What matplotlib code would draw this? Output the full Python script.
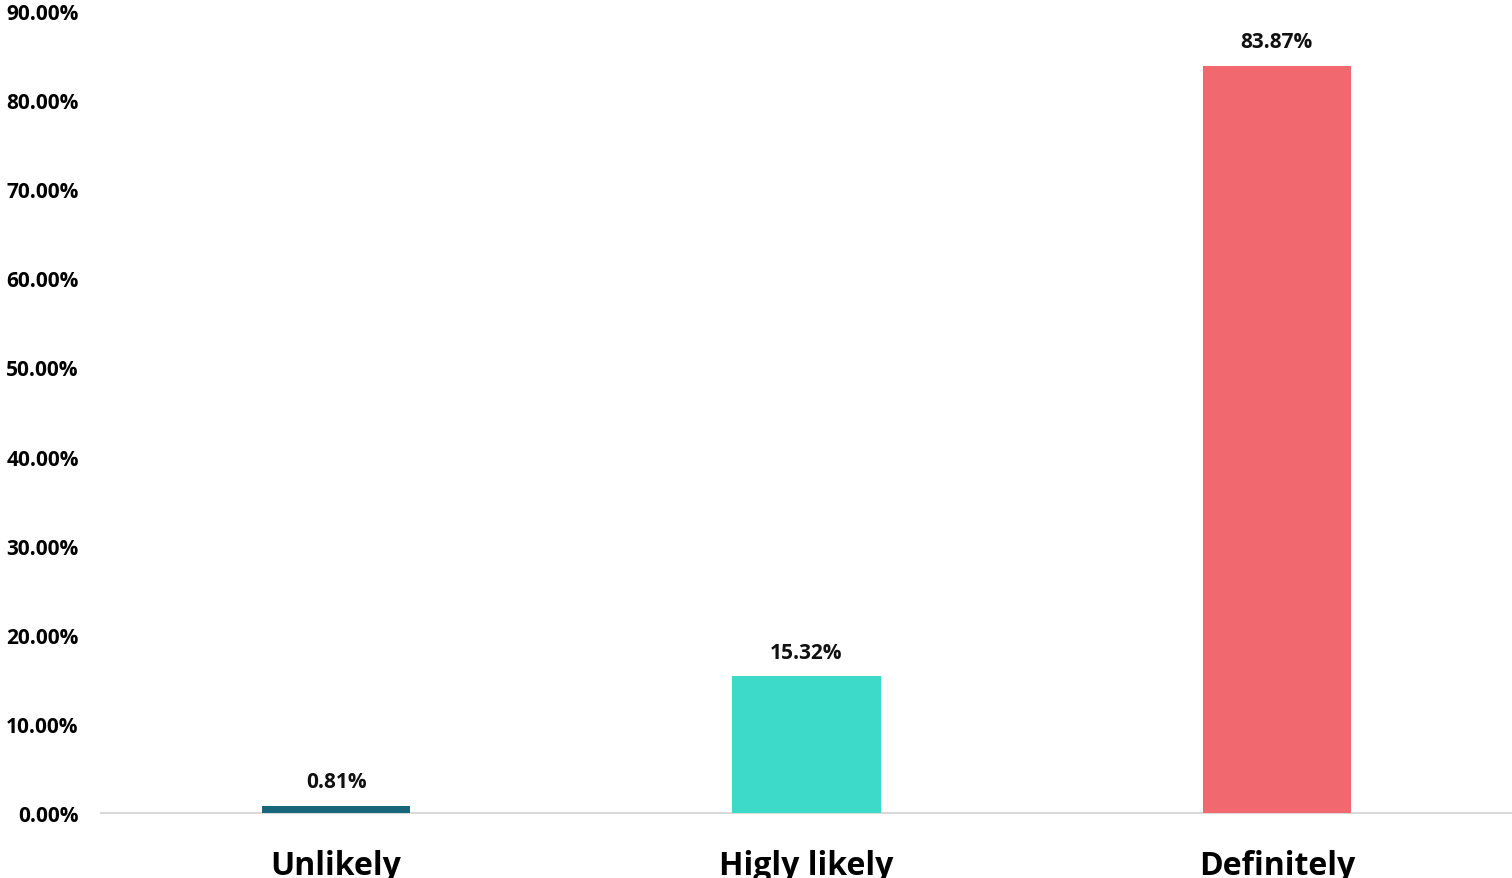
import matplotlib
matplotlib.use("Agg")
import matplotlib.pyplot as plt
from matplotlib.ticker import FuncFormatter, MultipleLocator

categories = ["Unlikely", "Higly likely", "Definitely"]
values = [0.81, 15.32, 83.87]
colors = ["#17667a", "#3dd9c9", "#f2686f"]

plt.rcParams['font.family'] = ['Open Sans', 'DejaVu Sans']

fig = plt.figure(figsize=(15.12, 8.79), dpi=100)
ax = fig.add_axes([101/1512, 65/879, 1 - 101/1512, (814-12)/879])

x = list(range(len(categories)))
bars = ax.bar(x, values, width=0.315, color=colors, zorder=3)

for xi, v in zip(x, values):
    ax.annotate(f"{v:.2f}%", (xi, v), xytext=(0, 10), textcoords="offset points",
                ha="center", va="bottom", fontsize=15, fontweight="bold", color="#111111")

ax.set_xlim(-0.5, 2.5)
ax.set_ylim(0, 90)
ax.yaxis.set_major_locator(MultipleLocator(10))
ax.yaxis.set_major_formatter(FuncFormatter(lambda v, p: f"{v:.2f}%"))
ax.set_xticks(x)
ax.set_xticklabels(categories, fontsize=23, fontweight="bold")
for lbl in ax.get_yticklabels():
    lbl.set_fontsize(15)
    lbl.set_fontweight("bold")

for s in ["top", "right", "left"]:
    ax.spines[s].set_visible(False)
ax.spines["bottom"].set_color("#d9d9d9")
ax.spines["bottom"].set_linewidth(1.5)
ax.tick_params(axis="both", length=0)
ax.tick_params(axis="y", pad=16)
ax.tick_params(axis="x", pad=26)

fig.savefig("out.png", dpi=100)
